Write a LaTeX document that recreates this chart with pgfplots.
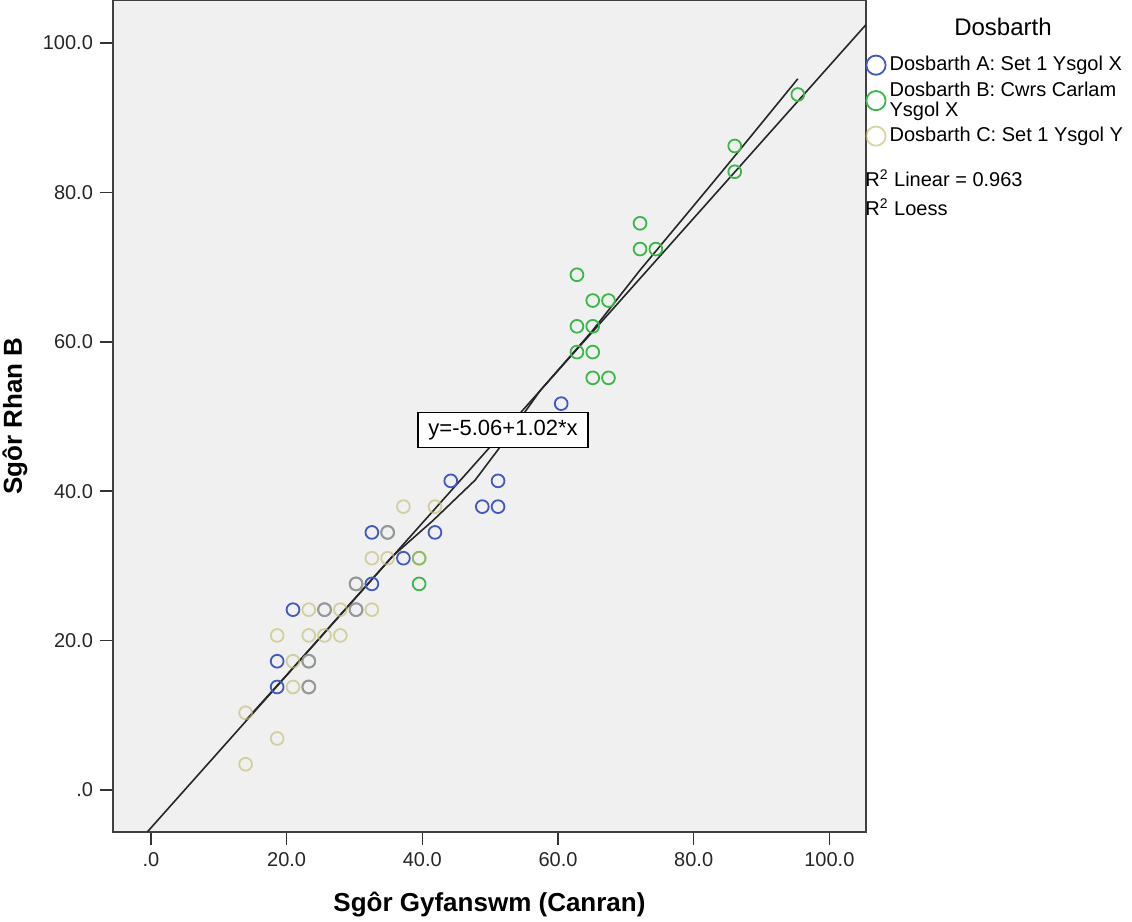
\documentclass[border=0pt]{standalone}
\usepackage{pgfplots}
\pgfplotsset{compat=1.18}
\usepackage{fontspec}
\setmainfont{Liberation Sans}
\definecolor{cA}{RGB}{62,88,196}
\definecolor{cB}{RGB}{55,185,70}
\definecolor{cC}{RGB}{195,190,110}
\definecolor{bg}{RGB}{240,240,240}
\begin{document}
\begin{tikzpicture}
\path[use as bounding box] (-56.5pt,-45pt) rectangle (509.5pt,416pt);
\begin{axis}[
  at={(0pt,0pt)}, anchor=south west,
  scale only axis, width=376.5pt, height=416pt,
  xmin=-5.6, xmax=105.4, ymin=-5.62, ymax=105.75,
  axis background/.style={fill=bg},
  axis line style={draw=black!75, line width=0.9pt},
  tick align=outside, xtick pos=bottom, ytick pos=left,
  major tick length=6.5pt,
  tick style={black!80, line width=0.8pt},
  xtick={0,20,40,60,80,100}, xticklabels={.0,20.0,40.0,60.0,80.0,100.0},
  ytick={0,20,40,60,80,100}, yticklabels={.0,20.0,40.0,60.0,80.0,100.0},
  ticklabel style={font=\fontsize{10}{12}\selectfont, text=black!85},
  xlabel={Sgôr Gyfanswm (Canran)}, ylabel={Sgôr Rhan B},
  label style={font=\bfseries\fontsize{13}{15}\selectfont},
  xlabel style={at={(axis description cs:0.5,-0.0877)}, anchor=center},
  ylabel style={at={(axis description cs:-0.1301,0.5)}, anchor=center},
  legend style={at={(axis description cs:1,1)}, anchor=north west, yshift=-26pt,
    draw=none, fill=none, font=\fontsize{10}{10}\selectfont,
    cells={anchor=west, align=left}, row sep=0pt, inner sep=0pt},
  legend cell align=left,
  legend image code/.code={\draw[#1, mark size=4.8pt] plot coordinates {(0pt,0pt)};},
]
% Dosbarth A
\addplot[only marks, mark=o, mark size=3.2pt, color=cA, mark options={line width=0.9pt}] table {
x y
44.19 41.38
51.16 41.38
48.84 37.93
51.16 37.93
60.47 51.72
32.56 34.48
34.88 34.48
41.86 34.48
37.21 31.03
30.23 27.59
32.56 27.59
20.93 24.14
25.58 24.14
30.23 24.14
18.60 17.24
23.26 17.24
18.60 13.79
23.26 13.79
};
\addlegendentry{Dosbarth A: Set 1 Ysgol X}
% Dosbarth B
\addplot[only marks, mark=o, mark size=3.2pt, color=cB, mark options={line width=0.9pt}] table {
x y
39.53 27.59
39.53 31.03
62.79 68.97
65.12 65.52
67.44 65.52
62.79 62.07
65.12 62.07
62.79 58.62
65.12 58.62
65.12 55.17
67.44 55.17
72.09 75.86
72.09 72.41
74.42 72.41
86.05 86.21
86.05 82.76
95.35 93.10
};
\addlegendentry{Dosbarth B: Cwrs Carlam\\Ysgol X}
% Dosbarth C
\addplot[only marks, mark=o, mark size=3.2pt, color=cC, mark options={line width=0.9pt, opacity=0.65}] table {
x y
37.21 37.93
41.86 37.93
34.88 34.48
32.56 31.03
34.88 31.03
39.53 31.03
30.23 27.59
23.26 24.14
25.58 24.14
27.91 24.14
30.23 24.14
32.56 24.14
18.60 20.69
23.26 20.69
25.58 20.69
27.91 20.69
20.93 17.24
23.26 17.24
20.93 13.79
23.26 13.79
13.95 10.34
18.60 6.90
13.95 3.45
};
\addlegendentry{Dosbarth C: Set 1 Ysgol Y}
% Linear fit
\addplot[black!85, line width=0.8pt, forget plot] coordinates {(-0.55,-5.62) (105.4,102.45)};
% Loess
\addplot[black!85, line width=0.8pt, forget plot] coordinates {
(13.95,9.3) (20,15.4) (25,20.5) (30,25.6) (35.5,31.2) (41.6,36.1) (47.8,41.5)
(51.2,45.6) (57.4,53.5) (65,61.4) (72.1,69.6) (82,80.4) (86,84.8) (95.35,95.2)};
\node[draw=black, fill=white, line width=0.8pt, font=\fontsize{11}{13}\selectfont,
  minimum width=85pt, minimum height=17.5pt, inner sep=1pt] at (axis cs:51.9,48.2) {y=-5.06+1.02*x};
\end{axis}
\node[font=\fontsize{12}{14}\selectfont, anchor=center] at (445pt,402.5pt) {Dosbarth};
\node[font=\fontsize{10}{12}\selectfont, anchor=west, inner sep=0pt] at (376pt,327pt) {R\textsuperscript{2} Linear = 0.963};
\node[font=\fontsize{10}{12}\selectfont, anchor=west, inner sep=0pt] at (376pt,312.5pt) {R\textsuperscript{2} Loess};
\end{tikzpicture}
\end{document}
